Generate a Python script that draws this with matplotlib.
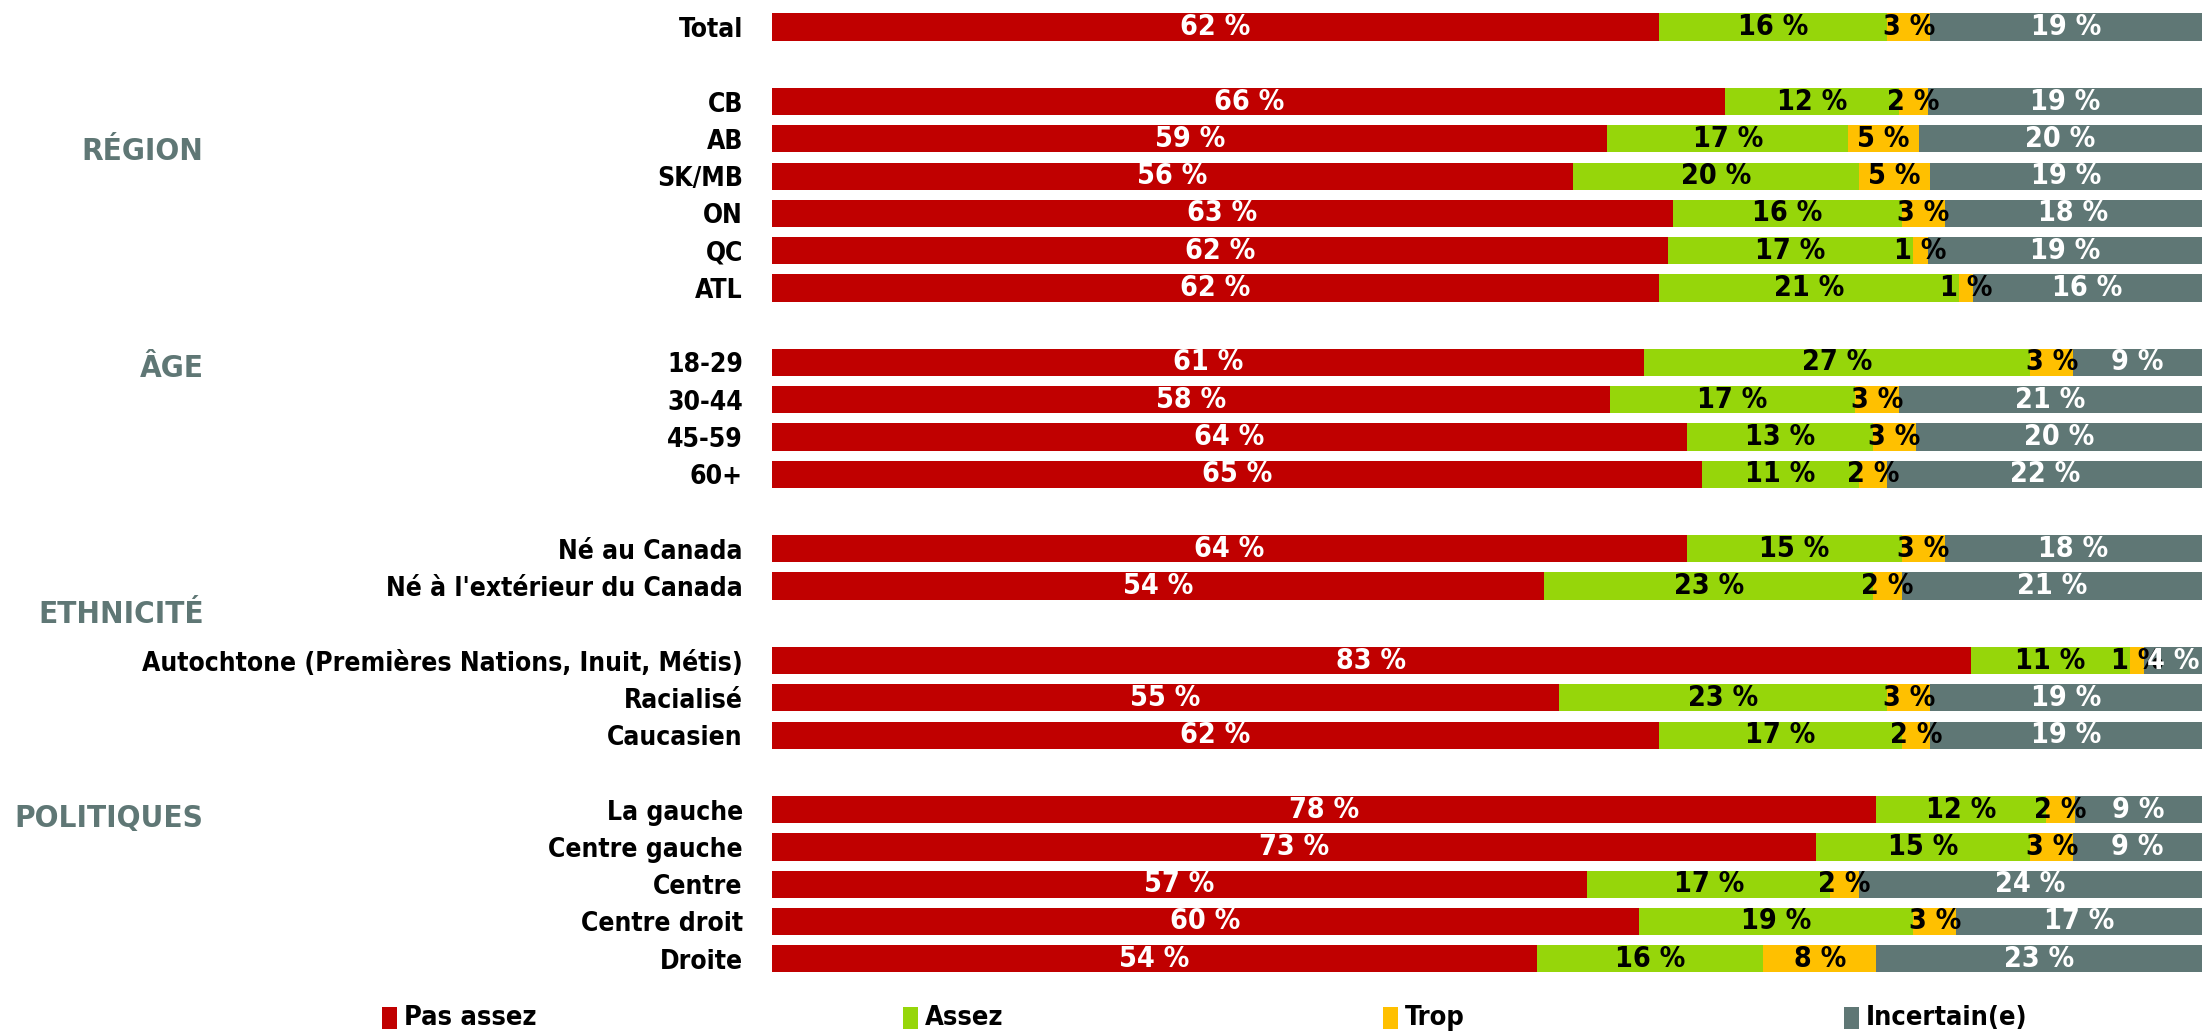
import os
import numpy as np
import matplotlib
matplotlib.use("Agg")
import matplotlib.pyplot as plt
from matplotlib.patches import Rectangle
from matplotlib import font_manager as fm
import matplotlib.transforms as mtransforms

# rows ("" = blank separator row)
labels = ["Total", "",
          "CB", "AB", "SK/MB", "ON", "QC", "ATL", "",
          "18-29", "30-44", "45-59", "60+", "",
          "Né au Canada", "Né à l'extérieur du Canada", "",
          "Autochtone (Premières Nations, Inuit, Métis)", "Racialisé", "Caucasien", "",
          "La gauche", "Centre gauche", "Centre", "Centre droit", "Droite"]

pas_assez = [62, None, 66, 59, 56, 63, 62, 62, None, 61, 58, 64, 65, None,
             64, 54, None, 83, 55, 62, None, 78, 73, 57, 60, 54]
assez = [16, None, 12, 17, 20, 16, 17, 21, None, 27, 17, 13, 11, None,
         15, 23, None, 11, 23, 17, None, 12, 15, 17, 19, 16]
trop = [3, None, 2, 5, 5, 3, 1, 1, None, 3, 3, 3, 2, None,
        3, 2, None, 1, 3, 2, None, 2, 3, 2, 3, 8]
incertain = [19, None, 19, 20, 19, 18, 19, 16, None, 9, 21, 20, 22, None,
             18, 21, None, 4, 19, 19, None, 9, 9, 24, 17, 23]

series = ["Pas assez", "Assez", "Trop", "Incertain(e)"]
colors = ["#C00000", "#96D60A", "#FFC000", "#5F7775"]
text_colors = ["white", "black", "black", "white"]

groups = ["RÉGION", "ÂGE", "ETHNICITÉ", "POLITIQUES"]
group_rows = [3.35, 9.15, 15.77, 21.24]


# look for a bold condensed face, the reference uses a narrow bold font
def find_font():
    files = [os.path.basename(f.fname) for f in fm.fontManager.ttflist]
    paths = {os.path.basename(f.fname): f.fname for f in fm.fontManager.ttflist}
    wanted = ["LiberationSansNarrow-Bold.ttf", "DejaVuSansCondensed-Bold.ttf",
              "NotoSans-CondensedBold.ttf", "RobotoCondensed-Bold.ttf",
              "OpenSans-CondensedBold.ttf"]
    for w in wanted:
        if w in files:
            return fm.FontProperties(fname=paths[w])
    for f in files:
        low = f.lower()
        if ("condensed" in low or "narrow" in low) and "bold" in low \
                and "italic" not in low and "extra" not in low and "semi" not in low:
            return fm.FontProperties(fname=paths[f])
    return fm.FontProperties(family="Lato", weight="bold")


fp = find_font()


def font(size):
    p = fp.copy()
    p.set_size(size)
    return p


W, H = 2202, 1031
fig = plt.figure(figsize=(W / 100, H / 100), dpi=100)
ax = fig.add_axes([0.3506, 0.052, 0.6494, 0.9398])

data = np.array([pas_assez, assez, trop, incertain], dtype=float)  # NaN for blanks
totals = np.nansum(data, axis=0)
y = np.arange(len(labels))

left = np.zeros(len(labels))
for i, name in enumerate(series):
    vals = data[i]
    widths = np.where(np.isnan(vals), 0, vals / np.where(totals == 0, 1, totals) * 100)
    ax.barh(y, widths, left=left, height=0.73, color=colors[i], label=name)
    for j in range(len(labels)):
        if np.isnan(vals[j]):
            continue
        ax.text(left[j] + widths[j] / 2, y[j], f"{int(vals[j])} %",
                ha='center', va='center', color=text_colors[i],
                fontproperties=font(20.5))
    left += widths

ax.set_xlim(0, 100)
ax.set_ylim(len(labels) - 0.5, -0.5)
ax.set_yticks(y)
ax.set_yticklabels(labels, fontproperties=font(19))
ax.tick_params(axis='y', length=0, pad=21)
ax.set_xticks([])
for s in ax.spines.values():
    s.set_visible(False)

trans = mtransforms.blended_transform_factory(fig.transFigure, ax.transData)
for g, r in zip(groups, group_rows):
    fig.text(0.0925, r, g, transform=trans, ha='right', va='center',
             fontproperties=font(22.5), color="#5F7775")

# legend drawn by hand so the entries sit where the reference has them
legend_x = [382, 903, 1383, 1844]
ly = 13
for lx, name, c in zip(legend_x, series, colors):
    fig.patches.append(Rectangle((lx / W, (ly - 11) / H), 15 / W, 22 / H,
                                 transform=fig.transFigure, facecolor=c,
                                 edgecolor='none'))
    fig.text((lx + 22) / W, ly / H, name, ha='left', va='center',
             fontproperties=font(19.5))

fig.savefig("out.png", dpi=100)
